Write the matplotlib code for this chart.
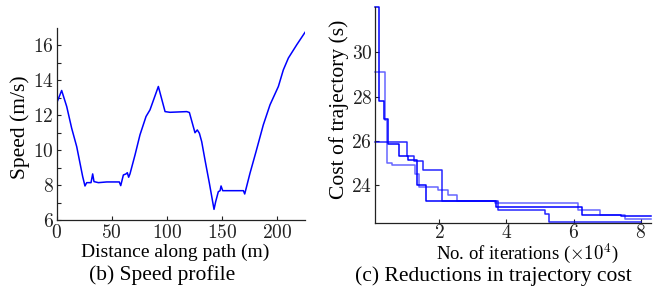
import matplotlib
matplotlib.use("Agg")
import matplotlib.pyplot as plt
import numpy as np
from matplotlib.ticker import FixedLocator, FuncFormatter

plt.rcParams['font.family'] = ['Liberation Serif', 'DejaVu Serif']
plt.rcParams['mathtext.fontset'] = 'cm'

# ---- speed profile data ----
dist = [0, 4.5, 9.1, 13.6, 18.2, 21.2, 23.6, 25.7, 27.3, 31.2, 32.7, 33.9, 37.9, 45.5, 56.9,
        58.2, 60.6, 63.0, 64.2, 65.4, 66.6, 71.2, 75.7, 81.2, 84.8, 92.4, 98.5, 103.0, 118.2,
        120.6, 125.7, 127.8, 129.7, 131.8, 134.8, 138.8, 143.0, 144.5, 146.9, 148.5, 149.4,
        150.9, 169.7, 170.9, 175.7, 181.2, 187.8, 193.9, 201.5, 206.0, 210.6, 218.2, 225.7]
speed = [12.70, 13.42, 12.50, 11.26, 10.20, 9.25, 8.49, 7.95, 8.14, 8.14, 8.64, 8.20, 8.14, 8.18, 8.18,
         7.97, 8.58, 8.64, 8.71, 8.45, 8.64, 9.73, 10.88, 11.93, 12.31, 13.65, 12.21, 12.17, 12.21,
         12.16, 11.00, 11.16, 10.97, 10.49, 9.44, 8.10, 6.61, 7.05, 7.62, 7.68, 7.95,
         7.68, 7.68, 7.49, 8.68, 9.92, 11.45, 12.60, 13.65, 14.60, 15.28, 16.04, 16.75]

# ---- trajectory cost data (step curves: iteration x1e4, cost) ----
it1 = [0.10, 0.23, 0.36, 0.50, 0.82, 1.08, 1.35, 1.63, 3.70, 6.24, 7.40, 8.30]
cost1 = [32.05, 27.80, 27.00, 25.87, 25.33, 25.15, 24.00, 23.30, 23.00, 22.67, 22.60, 22.60]
it2 = [0.10, 0.41, 0.47, 0.60, 1.30, 1.40, 1.98, 2.28, 2.53, 3.66, 6.14, 6.79, 7.53, 8.30]
cost2 = [29.10, 26.95, 25.00, 24.90, 24.50, 23.90, 23.76, 23.55, 23.26, 23.21, 22.88, 22.67, 22.46, 22.46]
it3 = [0.10, 1.06, 1.25, 1.53, 2.08, 3.76, 5.14, 5.28, 8.00]
cost3 = [25.97, 25.30, 25.10, 24.66, 23.26, 22.86, 22.70, 22.33, 22.33]

W, H = 662, 286
fig = plt.figure(figsize=(W / 100, H / 100), dpi=100)

def axrect(x0, y0, x1, y1):
    return [x0 / W, 1 - y1 / H, (x1 - x0) / W, (y1 - y0) / H]

tfs = 14
lfs = 14
cfs = 15.5
blue = '#0000ff'

def style(ax, xpad):
    for s in ['top', 'right']:
        ax.spines[s].set_visible(False)
    for s in ['left', 'bottom']:
        ax.spines[s].set_linewidth(0.9)
        ax.spines[s].set_color('#222222')
    ax.tick_params(which='both', direction='in', length=3, width=0.8, labelsize=tfs,
                   colors='#222222')
    ax.tick_params(axis='x', pad=xpad)
    ax.tick_params(axis='y', pad=2)
    ax.xaxis.set_major_formatter(FuncFormatter(lambda v, p: r'$%g$' % v))
    ax.yaxis.set_major_formatter(FuncFormatter(lambda v, p: r'$%g$' % v))

# left
ax1 = fig.add_axes(axrect(56.7, 28, 305, 220))
ax1.plot(dist, speed, color=blue, lw=1.1)
ax1.set_xlim(0, 225.7)
ax1.set_ylim(6, 17)
ax1.set_xticks([0, 50, 100, 150, 200])
ax1.set_yticks([6, 8, 10, 12, 14, 16])
ax1.yaxis.set_minor_locator(FixedLocator([7, 9, 11, 13, 15]))
style(ax1, 3)
fig.text(20 / W, 1 - 127 / H, 'Speed (m/s)', rotation=90, ha='center', va='center', fontsize=cfs)
fig.text(175 / W, 1 - 252 / H, 'Distance along path (m)', ha='center', va='center', fontsize=lfs)
fig.text(162 / W, 1 - 275 / H, '(b) Speed profile', ha='center', va='center', fontsize=cfs)

# right
ax2 = fig.add_axes(axrect(375, 7, 651, 222.7))
for xs, ys, a in [(it1, cost1, 1.0), (it2, cost2, 0.6), (it3, cost3, 0.85)]:
    ax2.step(xs, ys, where='post', color=blue, lw=1.1, alpha=a, clip_on=False)
ax2.set_xlim(0.1, 8.3)
ax2.set_ylim(22.3, 32.05)
ax2.set_xticks([2, 4, 6, 8])
ax2.set_yticks([24, 26, 28, 30])
style(ax2, 1)
fig.text(339 / W, 1 - 109 / H, 'Cost of trajectory (s)', rotation=90, ha='center', va='center', fontsize=cfs)
fig.text(527 / W, 1 - 254 / H, r'No. of iterations ($\times 10^4$)', ha='center', va='center', fontsize=13.5)
fig.text(493 / W, 1 - 276.5 / H, '(c) Reductions in trajectory cost', ha='center', va='center', fontsize=cfs)

fig.savefig('out.png', dpi=100)
